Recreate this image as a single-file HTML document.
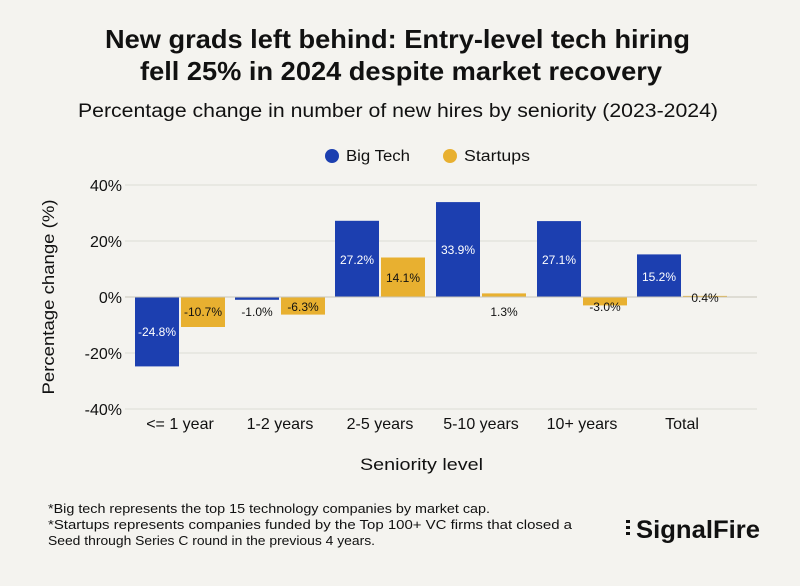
<!DOCTYPE html>
<html><head><meta charset="utf-8"><style>
body{margin:0;background:#f4f3ef;font-family:"Liberation Sans",sans-serif;}
</style></head><body>
<svg width="800" height="581" xmlns="http://www.w3.org/2000/svg" font-family="Liberation Sans, sans-serif">
<rect width="800" height="581" fill="#f4f3ef"/>
<text x="105" y="48" font-size="26" font-weight="bold" fill="#111" textLength="585" lengthAdjust="spacingAndGlyphs">New grads left behind: Entry-level tech hiring</text>
<text x="140" y="80" font-size="26" font-weight="bold" fill="#111" textLength="522" lengthAdjust="spacingAndGlyphs">fell 25% in 2024 despite market recovery</text>
<text x="78" y="117" font-size="19" fill="#111" textLength="640" lengthAdjust="spacingAndGlyphs">Percentage change in number of new hires by seniority (2023-2024)</text>
<circle cx="332" cy="156" r="7" fill="#1c3fb0"/><text x="346" y="161" font-size="15.5" fill="#111" textLength="64" lengthAdjust="spacingAndGlyphs">Big Tech</text>
<circle cx="450" cy="156" r="7" fill="#e8b030"/><text x="464" y="161" font-size="15.5" fill="#111" textLength="66" lengthAdjust="spacingAndGlyphs">Startups</text>
<g stroke="#dddcd6" stroke-width="1">
<line x1="125" x2="757" y1="185" y2="185"/><line x1="125" x2="757" y1="241" y2="241"/>
<line x1="125" x2="757" y1="353" y2="353"/><line x1="125" x2="757" y1="409" y2="409"/>
</g>
<g font-size="16" fill="#111" text-anchor="end">
<text x="122" y="191">40%</text><text x="122" y="247">20%</text><text x="122" y="303">0%</text><text x="122" y="359">-20%</text><text x="122" y="415">-40%</text>
</g>
<text transform="translate(54,297) rotate(-90)" text-anchor="middle" font-size="17" fill="#111" textLength="195" lengthAdjust="spacingAndGlyphs">Percentage change (%)</text>
<g fill="#1c3fb0">
<rect x="135" y="297" width="44" height="69.4"/>
<rect x="235" y="297" width="44" height="2.8"/>
<rect x="335" y="220.8" width="44" height="76.2"/>
<rect x="436" y="202.1" width="44" height="94.9"/>
<rect x="537" y="221.1" width="44" height="75.9"/>
<rect x="637" y="254.4" width="44" height="42.6"/>
</g>
<g fill="#e8b030">
<rect x="181" y="297" width="44" height="30"/>
<rect x="281" y="297" width="44" height="17.6"/>
<rect x="381" y="257.5" width="44" height="39.5"/>
<rect x="482" y="293.4" width="44" height="3.6"/>
<rect x="583" y="297" width="44" height="8.4"/>
<rect x="683" y="295.9" width="44" height="1.1"/>
</g>
<line x1="125" x2="757" y1="297" y2="297" stroke="#c9c6b8" stroke-width="1"/>
<g font-size="12" text-anchor="middle">
<text x="157" y="336" fill="#fff">-24.8%</text>
<text x="203" y="316" fill="#111">-10.7%</text>
<text x="257" y="316" fill="#111">-1.0%</text>
<text x="303" y="311" fill="#111">-6.3%</text>
<text x="357" y="264" fill="#fff">27.2%</text>
<text x="403" y="282" fill="#111">14.1%</text>
<text x="458" y="254" fill="#fff">33.9%</text>
<text x="504" y="316" fill="#111">1.3%</text>
<text x="559" y="264" fill="#fff">27.1%</text>
<text x="605" y="311" fill="#111">-3.0%</text>
<text x="659" y="281" fill="#fff">15.2%</text>
<text x="705" y="302" fill="#111">0.4%</text>
</g>
<g font-size="16" fill="#111" text-anchor="middle">
<text x="180" y="429">&lt;= 1 year</text><text x="280" y="429">1-2 years</text><text x="380" y="429">2-5 years</text>
<text x="481" y="429">5-10 years</text><text x="582" y="429">10+ years</text><text x="682" y="429">Total</text>
</g>
<text x="360" y="470" font-size="17" fill="#111" textLength="123" lengthAdjust="spacingAndGlyphs">Seniority level</text>
<g font-size="13" fill="#111">
<text x="48" y="513" textLength="442" lengthAdjust="spacingAndGlyphs">*Big tech represents the top 15 technology companies by market cap.</text>
<text x="48" y="529" textLength="524" lengthAdjust="spacingAndGlyphs">*Startups represents companies funded by the Top 100+ VC firms that closed a</text>
<text x="48" y="545" textLength="327" lengthAdjust="spacingAndGlyphs">Seed through Series C round in the previous 4 years.</text>
</g>
<text x="636" y="538" font-size="25" font-weight="bold" fill="#111" textLength="124" lengthAdjust="spacingAndGlyphs">SignalFire</text>
<g fill="#111"><rect x="626" y="520" width="4" height="3"/><rect x="626" y="526" width="4" height="3"/><rect x="626" y="532" width="4" height="3"/></g>
</svg>
</body></html>
